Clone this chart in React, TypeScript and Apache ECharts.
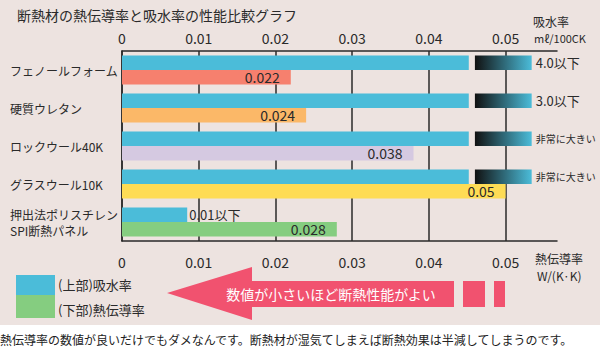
import React, { useEffect, useRef } from 'react';
import * as echarts from 'echarts';

const categories = ['フェノールフォーム', '硬質ウレタン', 'ロックウール40K', 'グラスウール10K', '押出法ポリスチレン\nSPI断熱パネル'];
const conductivity = [0.022, 0.024, 0.038, 0.05, 0.028];
const conductivityColors = ['#f6806e', '#fbb868', '#d5c9e1', '#fedc55', '#85cd80'];
const absorptionShown = [0.0452, 0.0452, 0.0452, 0.0452, 0.0085];
const absorptionBreak = [0.0008, 0.0008, 0.0008, 0.0008, null];
const absorptionFade = [0.0074, 0.0074, 0.0074, 0.0074, null];
const absorptionLabels = ['4.0以下', '3.0以下', '非常に大きい', '非常に大きい', '0.01以下'];
const axisMax = 0.0567;
const axisInterval = 0.01;

const FONT = '"Noto Sans CJK JP", "Noto Sans", sans-serif';
const BLUE = '#4bbcd9';
const INK = '#2a2a2a';

export default function App() {
  const ref = useRef<HTMLDivElement>(null);
  useEffect(() => {
    if (!ref.current) return;
    const chart = echarts.init(ref.current, undefined, { renderer: 'svg' });

    const fadeColor = new echarts.graphic.LinearGradient(0, 0, 1, 0, [
      { offset: 0, color: '#111111' },
      { offset: 1, color: BLUE },
    ]);

    const lastIdx = absorptionShown.length - 1;

    const option: any = {
      animation: false,
      backgroundColor: '#ffffff',
      textStyle: { fontFamily: FONT },
      grid: { left: 122, top: 51, right: 43, bottom: 109, containLabel: false },
      xAxis: [
        {
          type: 'value', position: 'bottom', min: 0, max: axisMax, interval: axisInterval,
          axisLine: { show: true, lineStyle: { color: INK, width: 1.5 } },
          axisTick: { show: false },
          axisLabel: { color: INK, fontSize: 14, margin: 14, showMaxLabel: false },
          splitLine: { show: true, showMaxLine: false, lineStyle: { color: INK, width: 1.5 } },
        },
        {
          type: 'value', position: 'top', min: 0, max: axisMax, interval: axisInterval,
          axisLine: { show: true, lineStyle: { color: INK, width: 1.5 } },
          axisTick: { show: false },
          axisLabel: { color: INK, fontSize: 14, margin: 6, showMaxLabel: false },
          splitLine: { show: false },
        },
      ],
      yAxis: {
        type: 'category', data: categories, inverse: true,
        axisLine: { show: true, lineStyle: { color: INK, width: 1.5 } },
        axisTick: { show: false },
        axisLabel: { color: INK, fontSize: 12, align: 'left', margin: 112, lineHeight: 16 },
        splitLine: { show: false },
      },
      series: [
        {
          type: 'bar', name: '吸水率', stack: 'w', barWidth: 14.5, barGap: '0%',
          itemStyle: { color: BLUE },
          data: absorptionShown.map((v, i) => i === lastIdx
            ? { value: v, label: { show: true, position: 'right', distance: 2, formatter: absorptionLabels[i], fontSize: 13, color: INK } }
            : v),
        },
        {
          type: 'bar', name: 'break', stack: 'w', barWidth: 14.5, barGap: '0%',
          itemStyle: { color: 'rgba(0,0,0,0)' },
          data: absorptionBreak.map(v => v === null ? '-' : v),
        },
        {
          type: 'bar', name: 'fade', stack: 'w', barWidth: 14.5, barGap: '0%',
          itemStyle: { color: fadeColor },
          data: absorptionFade.map((v, i) => v === null ? '-' : {
            value: v,
            label: {
              show: true, position: 'right', distance: 4, formatter: absorptionLabels[i],
              fontSize: absorptionLabels[i].length > 5 ? 10 : 13, color: INK,
            },
          }),
        },
        {
          type: 'bar', name: '熱伝導率', barWidth: 14.5, barGap: '0%',
          data: conductivity.map((v, i) => ({ value: v, itemStyle: { color: conductivityColors[i] } })),
          label: { show: true, position: 'insideRight', distance: 11, color: INK, fontSize: 14, formatter: '{c}' },
        },
      ],
      graphic: [
        { type: 'rect', z: -100, silent: true, shape: { x: 0, y: 0, width: 600, height: 325 }, style: { fill: '#ede3e0' } },
        { type: 'text', x: 17, y: 15, style: { text: '断熱材の熱伝導率と吸水率の性能比較グラフ', font: `14px ${FONT}`, fill: INK, verticalAlign: 'middle' } },
        { type: 'text', x: 533, y: 21, style: { text: '吸水率', font: `12px ${FONT}`, fill: INK, verticalAlign: 'middle' } },
        { type: 'text', x: 534, y: 38, style: { text: 'mℓ/100CK', font: `11px ${FONT}`, fill: INK, verticalAlign: 'middle' } },
        { type: 'text', x: 535, y: 258, style: { text: '熱伝導率', font: `12px ${FONT}`, fill: INK, verticalAlign: 'middle' } },
        { type: 'text', x: 537, y: 275, style: { text: 'W/(K·K)', font: `12px ${FONT}`, fill: INK, verticalAlign: 'middle' } },
        { type: 'rect', shape: { x: 16, y: 275, width: 39, height: 20 }, style: { fill: BLUE } },
        { type: 'rect', shape: { x: 16, y: 295, width: 39, height: 23 }, style: { fill: '#85cd80' } },
        { type: 'text', x: 58, y: 284, style: { text: '(上部)吸水率', font: `13px ${FONT}`, fill: INK, verticalAlign: 'middle' } },
        { type: 'text', x: 58, y: 309, style: { text: '(下部)熱伝導率', font: `13px ${FONT}`, fill: INK, verticalAlign: 'middle' } },
        { type: 'polygon', shape: { points: [[167, 293], [252, 267], [252, 281], [454, 281], [454, 307], [252, 307], [252, 320]] }, style: { fill: '#f1526f' } },
        { type: 'rect', shape: { x: 463, y: 281, width: 22, height: 26 }, style: { fill: '#f1526f' } },
        { type: 'rect', shape: { x: 494, y: 281, width: 11, height: 26 }, style: { fill: '#f1526f' } },
        { type: 'text', x: 331, y: 294, style: { text: '数値が小さいほど断熱性能がよい', font: `14px ${FONT}`, fill: '#ffffff', align: 'center', verticalAlign: 'middle' } },
        { type: 'text', x: 0, y: 339, style: { text: '熱伝導率の数値が良いだけでもダメなんです。断熱材が湿気てしまえば断熱効果は半減してしまうのです。', font: `12px ${FONT}`, fill: '#222222', verticalAlign: 'middle' } },
      ],
    };
    chart.setOption(option);
    return () => chart.dispose();
  }, []);
  return <div ref={ref} style={{ position: 'fixed', left: 0, top: 0, width: 600, height: 350 }} />;
}
